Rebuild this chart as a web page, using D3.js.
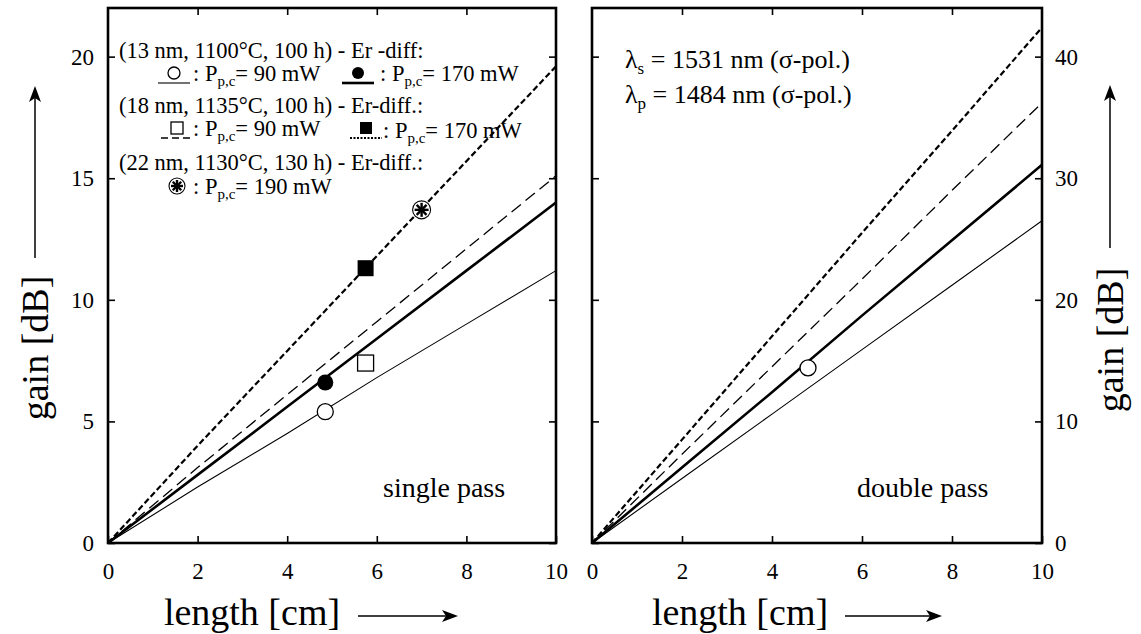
<!DOCTYPE html>
<html><head><meta charset="utf-8">
<script src="https://cdn.jsdelivr.net/npm/d3@7"></script>
<style>body{margin:0;background:#fff;}</style></head>
<body><svg id="c" width="1141" height="634" font-family="Liberation Serif"></svg>
<script>
// ---- data ----
const lengths = [0, 2, 4, 6, 8, 10];
// single pass gain [dB]
const single13_90  = [0, 2.3, 4.5, 6.8, 9.0, 11.2];
const single13_170 = [0, 2.8, 5.6, 8.4, 11.2, 14.0];
const single18_90  = [0, 3.1, 6.1, 9.1, 12.1, 15.1];
const single18_170 = [0, 4.0, 7.9, 11.8, 15.7, 19.6];
// double pass gain [dB]
const double13_90  = [0, 5.3, 10.6, 15.9, 21.2, 26.5];
const double13_170 = [0, 6.2, 12.4, 18.7, 24.9, 31.1];
const double18_90  = [0, 7.3, 14.5, 21.7, 29.0, 36.2];
const double18_170 = [0, 8.5, 17.0, 25.5, 33.9, 42.4];
// measured points
const singleMarkLength = [4.85, 4.85, 5.75, 5.75, 7.0];
const singleMarkGain   = [5.4, 6.6, 7.4, 11.3, 13.7];
const singleMarkType   = ["circleOpen", "circleFilled", "squareOpen", "squareFilled", "asterisk"];
const doubleMarkLength = [4.8];
const doubleMarkGain   = [14.4];
const doubleMarkType   = ["circleOpen"];
// ticks
const xTicks = [0, 2, 4, 6, 8, 10];
const ySingleTicks = [0, 5, 10, 15, 20];
const yDoubleTicks = [0, 10, 20, 30, 40];

// ---- styles ----
const SERIF = "Liberation Serif";
const styles = {
  thin:   {w: 1.1, dash: null},
  thick:  {w: 2.6, dash: null},
  dashed: {w: 1.3, dash: "12,6"},
  bold:   {w: 2.2, dash: "6,3"}
};

const svg = d3.select("#c");
const yTop = 8, yBottom = 543;

function drawMarker(g, cx, cy, type, r = 8) {
  if (type === "circleOpen") {
    g.append("circle").attr("cx", cx).attr("cy", cy).attr("r", r).attr("fill", "#fff").attr("stroke", "#000").attr("stroke-width", 1.3);
  } else if (type === "circleFilled") {
    g.append("circle").attr("cx", cx).attr("cy", cy).attr("r", r).attr("fill", "#000");
  } else if (type === "squareOpen") {
    g.append("rect").attr("x", cx - r).attr("y", cy - r).attr("width", 2 * r).attr("height", 2 * r).attr("fill", "#fff").attr("stroke", "#000").attr("stroke-width", 1.3);
  } else if (type === "squareFilled") {
    g.append("rect").attr("x", cx - r).attr("y", cy - r).attr("width", 2 * r).attr("height", 2 * r).attr("fill", "#000");
  } else if (type === "asterisk") {
    g.append("circle").attr("cx", cx).attr("cy", cy).attr("r", r + 1).attr("fill", "#fff").attr("stroke", "#000").attr("stroke-width", 1.1);
    [0, 45, 90, 135].forEach(a => {
      const dx = Math.cos(a * Math.PI / 180) * (r - 1), dy = Math.sin(a * Math.PI / 180) * (r - 1);
      g.append("line").attr("x1", cx - dx).attr("y1", cy - dy).attr("x2", cx + dx).attr("y2", cy + dy)
        .attr("stroke", "#000").attr("stroke-width", 2.4);
    });
  }
}

function panel(x0, x1, yMax, series, marks, yTicks, side) {
  const x = d3.scaleLinear().domain([0, 10]).range([x0, x1]);
  const y = d3.scaleLinear().domain([0, yMax]).range([yBottom, yTop]);
  const g = svg.append("g");
  const line = d3.line().x((d, i) => x(lengths[i])).y(d => y(d));
  series.forEach(s => {
    g.append("path").datum(s.v).attr("d", line).attr("fill", "none")
      .attr("stroke", "#000").attr("stroke-width", styles[s.st].w)
      .attr("stroke-dasharray", styles[s.st].dash);
  });
  marks.len.forEach((l, i) => drawMarker(g, x(l), y(marks.gain[i]), marks.type[i]));
  const ax = (gen, tr) => g.append("g").attr("transform", tr).call(gen)
      .attr("font-family", SERIF).attr("font-size", 23)
      .call(a => a.select(".domain").remove())
      .call(a => a.selectAll(".tick line").attr("stroke", "#000").attr("stroke-width", 1.6))
      .call(a => a.selectAll("text").attr("fill", "#000"));
  ax(d3.axisBottom(x).tickValues(xTicks).tickSize(-7).tickPadding(20).tickFormat(d3.format("d")), `translate(0,${yBottom})`);
  ax(d3.axisTop(x).tickValues(xTicks.slice(1, -1)).tickSize(-7).tickFormat(""), `translate(0,${yTop})`);
  ax(d3.axisLeft(y).tickValues(yTicks).tickSize(-7).tickPadding(side === "left" ? 14 : 0)
      .tickFormat(side === "left" ? d3.format("d") : ""), `translate(${x0},0)`);
  ax(d3.axisRight(y).tickValues(yTicks).tickSize(-7).tickPadding(side === "right" ? 13 : 0)
      .tickFormat(side === "right" ? d3.format("d") : ""), `translate(${x1},0)`);
  g.append("rect").attr("x", x0).attr("y", yTop).attr("width", x1 - x0).attr("height", yBottom - yTop)
    .attr("fill", "none").attr("stroke", "#000").attr("stroke-width", 2.6);
  return {x, y, g};
}

panel(108, 556, 22, [
  {v: single13_90, st: "thin"}, {v: single13_170, st: "thick"},
  {v: single18_90, st: "dashed"}, {v: single18_170, st: "bold"}
], {len: singleMarkLength, gain: singleMarkGain, type: singleMarkType}, ySingleTicks, "left");

panel(592, 1042, 44, [
  {v: double13_90, st: "thin"}, {v: double13_170, st: "thick"},
  {v: double18_90, st: "dashed"}, {v: double18_170, st: "bold"}
], {len: doubleMarkLength, gain: doubleMarkGain, type: doubleMarkType}, yDoubleTicks, "right");

// ---- legend (left panel) ----
const fs = 22.5;
function txt(x, y, size) {
  return svg.append("text").attr("x", x).attr("y", y).attr("font-family", SERIF).attr("font-size", size).attr("fill", "#000");
}
function pText(x, y, val) {
  const t = txt(x, y, fs);
  t.append("tspan").text(": P");
  t.append("tspan").attr("dy", 5).attr("font-size", 15).text("p,c");
  t.append("tspan").attr("dy", -5).text("= " + val);
}
function legendSym(x, y, type, st) {
  svg.append("line").attr("x1", x - 16).attr("x2", x + 16).attr("y1", y + 5).attr("y2", y + 5)
    .attr("stroke", "#000").attr("stroke-width", styles[st].w).attr("stroke-dasharray", st === "bold" ? "2,1.5" : (st === "dashed" ? "7,4" : null));
  if (type) drawMarker(svg, x, y - 5, type, 6);
}
txt(119, 58, fs).text("(13 nm, 1100°C, 100 h) - Er -diff:");
legendSym(174, 78, "circleOpen", "thin"); pText(193, 81, "90 mW");
legendSym(358, 78, "circleFilled", "thick"); pText(380, 81, "170 mW");
txt(119, 113, fs).text("(18 nm, 1135°C, 100 h) -  Er-diff.:");
legendSym(177, 133, "squareOpen", "dashed"); pText(193, 136, "90 mW");
legendSym(366, 133, "squareFilled", "bold"); pText(383, 138, "170 mW");
txt(119, 170, fs).text("(22 nm, 1130°C, 130 h) -  Er-diff.:");
drawMarker(svg, 177, 186, "asterisk", 7); pText(193, 194, "190 mW");

// ---- right panel annotations ----
function lam(y, sub, rest) {
  const t = txt(625, y, 26);
  t.append("tspan").text("λ");
  t.append("tspan").attr("dy", 6).attr("font-size", 17).text(sub);
  t.append("tspan").attr("dy", -6).text(rest);
}
lam(68, "s", " = 1531 nm (σ-pol.)");
lam(103, "p", " = 1484 nm (σ-pol.)");

txt(383, 497, 28).text("single pass");
txt(857, 497, 28).text("double pass");

// ---- axis titles with arrows ----
function arrowH(x1, x2, y) {
  svg.append("line").attr("x1", x1).attr("x2", x2 - 6).attr("y1", y).attr("y2", y).attr("stroke", "#000").attr("stroke-width", 1.5);
  svg.append("path").attr("d", `M${x2},${y} l-16,-6 l4,6 l-4,6 Z`).attr("fill", "#000");
}
function arrowV(x, y1, y2) {
  svg.append("line").attr("x1", x).attr("x2", x).attr("y1", y1).attr("y2", y2 + 6).attr("stroke", "#000").attr("stroke-width", 1.5);
  svg.append("path").attr("d", `M${x},${y2} l-6,16 l6,-4 l6,4 Z`).attr("fill", "#000");
}
txt(252, 625, 38).attr("text-anchor", "middle").text("length [cm]");
arrowH(358, 458, 616);
txt(740, 625, 38).attr("text-anchor", "middle").text("length [cm]");
arrowH(845, 942, 616);

txt(0, 0, 38).attr("transform", "translate(48,348) rotate(-90)").attr("text-anchor", "middle").text("gain [dB]");
arrowV(35, 258, 86);
txt(0, 0, 38).attr("transform", "translate(1123,340) rotate(-90)").attr("text-anchor", "middle").text("gain [dB]");
arrowV(1110, 248, 85);
</script></body></html>
